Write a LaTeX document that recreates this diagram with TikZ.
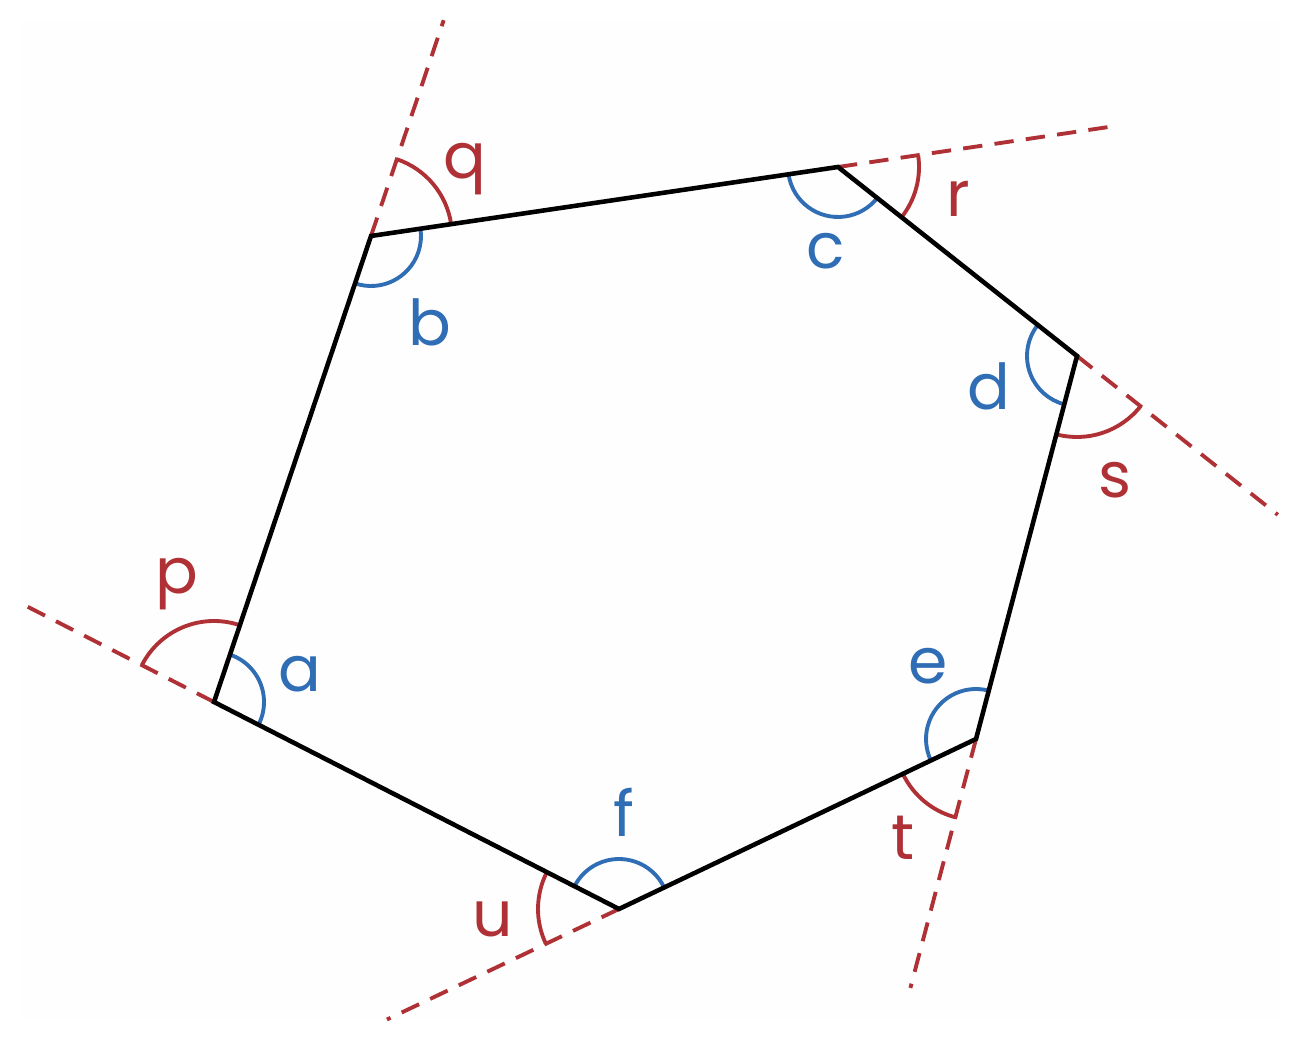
\documentclass[tikz,border=0pt]{standalone}
\usepackage{fontspec}
\setmainfont{Poppins}
\usetikzlibrary{calc,angles}
\definecolor{angblue}{HTML}{2F6DB5}
\definecolor{angred}{HTML}{AF3035}
\tikzset{
	side/.style = {line width=1.3pt, line join=miter},
	extline/.style = {angred, line width=1.1pt, dash pattern=on 5.5pt off 3.5pt},
	inner/.style = {draw=angblue, line width=1.1pt, angle radius=0.5cm},
	outer/.style = {draw=angred, line width=1.1pt, angle radius=0.81cm},
	lbl/.style = {font=\fontsize{18}{20}\selectfont, inner sep=0pt}
}
\begin{document}
\begin{tikzpicture}
	
	\useasboundingbox (0,0) rectangle (13,10.42);
	\fill[white!99.5!black] (0.2,0.22) rectangle (12.8,10.22);
	
	% corners of the hexagon
	\coordinate (A) at (2.14,3.40);
	\coordinate (B) at (3.71,8.06);
	\coordinate (C) at (8.38,8.75);
	\coordinate (D) at (10.77,6.86);
	\coordinate (E) at (9.76,3.03);
	\coordinate (F) at (6.19,1.33);
	
	% ends of the extended sides
	\coordinate (pA) at ($(A)!-0.48!(F)$);
	\coordinate (qB) at ($(B)!-0.463!(A)$);
	\coordinate (rC) at ($(C)!-0.6!(B)$);
	\coordinate (sD) at ($(D)!-0.84!(C)$);
	\coordinate (tE) at ($(E)!-0.65!(D)$);
	\coordinate (uF) at ($(F)!-0.65!(E)$);
	
	% dashed extensions
	\draw[extline] (A) -- (pA);
	\draw[extline] (B) -- (qB);
	\draw[extline] (C) -- (rC);
	\draw[extline] (D) -- (sD);
	\draw[extline] (E) -- (tE);
	\draw[extline] (F) -- (uF);
	
	% interior angles
	\pic[inner] {angle = F--A--B};
	\pic[inner] {angle = A--B--C};
	\pic[inner] {angle = B--C--D};
	\pic[inner] {angle = C--D--E};
	\pic[inner] {angle = D--E--F};
	\pic[inner] {angle = E--F--A};
	
	% exterior angles
	\pic[outer] {angle = B--A--pA};
	\pic[outer] {angle = C--B--qB};
	\pic[outer] {angle = D--C--rC};
	\pic[outer] {angle = E--D--sD};
	\pic[outer] {angle = F--E--tE};
	\pic[outer] {angle = A--F--uF};
	
	% hexagon
	\draw[side] (A) -- (B) -- (C) -- (D) -- (E) -- (F) -- cycle;
	
	% labels
	\node[lbl, angblue] (la) at (3.00,3.68) {a};
	\node[lbl, angblue] (lb) at (4.30,7.20) {b};
	\node[lbl, angblue] (lc) at (8.26,7.91) {c};
	\node[lbl, angblue] (ld) at (9.89,6.56) {d};
	\node[lbl, angblue] (le) at (9.28,3.76) {e};
	\node[lbl, angblue] (lf) at (6.24,2.30) {f};
	
	\node[lbl, angred] (lp) at (1.77,4.58) {p};
	\node[lbl, angred] (lq) at (4.65,8.73) {q};
	\node[lbl, angred] (lr) at (9.58,8.43) {r};
	\node[lbl, angred] (ls) at (11.15,5.62) {s};
	\node[lbl, angred] (lt) at (9.03,2.04) {t};
	\node[lbl, angred] (lu) at (4.93,1.23) {u};
	
\end{tikzpicture}
\end{document}
